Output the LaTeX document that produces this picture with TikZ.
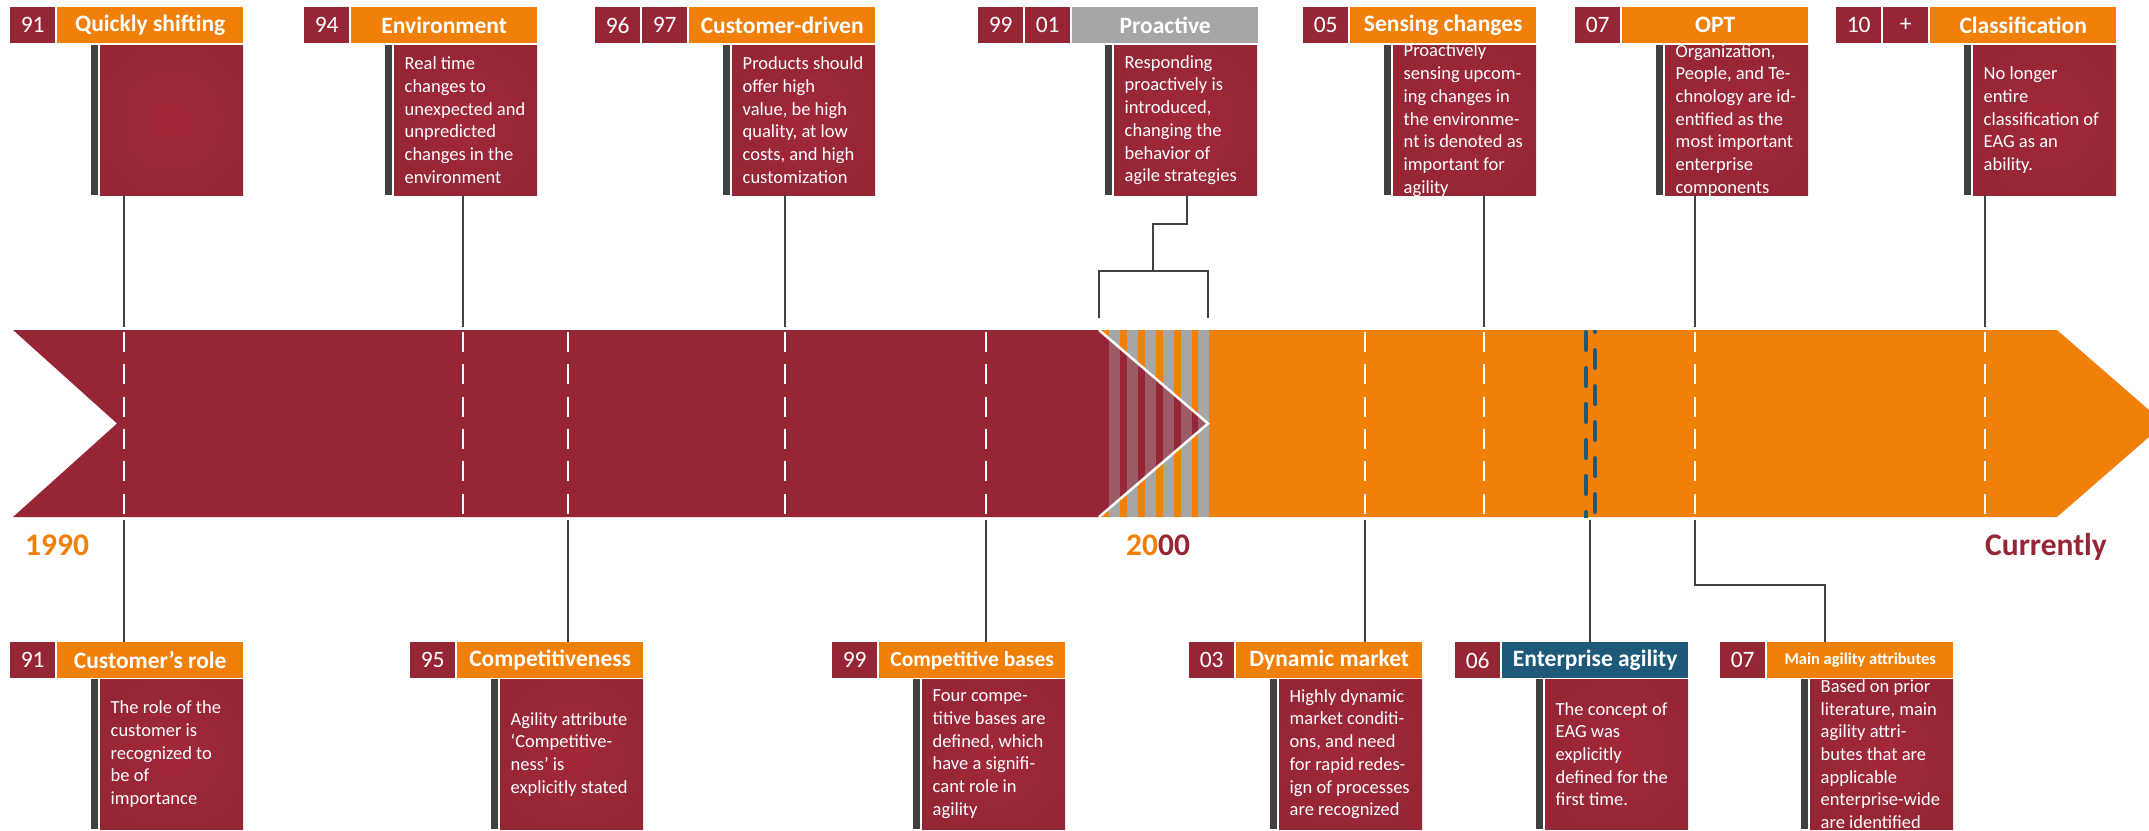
\documentclass[tikz,border=0pt]{standalone}
\usepackage{fontspec}
\setmainfont{Carlito}
\definecolor{tlMaroon}{RGB}{150,38,54}
\definecolor{tlMaroonL}{RGB}{162,40,58}
\definecolor{tlOrange}{RGB}{240,128,10}
\definecolor{tlGray}{RGB}{166,166,166}
\definecolor{tlBlue}{RGB}{30,89,122}
\definecolor{tlBar}{RGB}{64,64,64}
\newcommand\tlbody{\fontsize{18.5}{22.7}\selectfont}
\newcommand\tlhead{\fontsize{23.5}{28}\selectfont\bfseries}
\newcommand\tlheadmid{\fontsize{21.5}{26}\selectfont\bfseries}
\newcommand\tlheadsmall{\fontsize{16.5}{20}\selectfont\bfseries}
\newcommand\tlnum{\fontsize{23.5}{28}\selectfont}
\newcommand\tlyear{\fontsize{31.5}{36}\selectfont\bfseries}
\begin{document}
\begin{tikzpicture}[x=1pt,y=-1pt,
  numbox/.style={fill=tlMaroon, text=white, font=\tlnum, minimum width=45pt,
    minimum height=36pt, inner sep=0pt, anchor=north west},
  headbox/.style={fill=tlOrange, text=white, font=\tlhead, minimum width=186pt,
    minimum height=36pt, inner sep=0pt, anchor=north west},
  bodybox/.style={inner color=tlMaroonL, outer color=tlMaroon, minimum width=143pt,
    minimum height=150pt, inner sep=0pt, anchor=north west},
  barbox/.style={fill=tlBar, minimum width=7pt, minimum height=150pt,
    inner sep=0pt, anchor=north west},
  bodytext/.style={text=white, font=\tlbody, align=left, inner sep=0pt,
    anchor=west, xshift=10.5pt},
  conn/.style={draw=tlBar, line width=2.5pt},
  tick/.style={draw=white, line width=2.5pt, dash pattern=on 20pt off 12.3pt},
  agile/.style={draw=tlBlue, line width=4.5pt, line cap=round,
    dash pattern=on 17.5pt off 18.5pt},
  year/.style={font=\tlyear, inner sep=0pt, anchor=base west}]
\useasboundingbox (0,0) rectangle (2149,830);
\clip (0,0) rectangle (2149,830);

% ---------- time band ----------
\fill[tlMaroon] (13,330) -- (1099,330) -- (1208,423.5) -- (1099,517) -- (13,517)
  -- (117,423.5) -- cycle;
\fill[tlOrange] (1099,330) -- (2057,330) -- (2164.5,423.5) -- (2057,517) -- (1099,517)
  -- (1208,423.5) -- cycle;
\begin{scope}
  \clip (1099,330) -- (1300,330) -- (1300,517) -- (1099,517) -- (1208,423.5) -- cycle;
  \foreach \s in {1109,1127,1145,1163,1181,1198}
    \fill[tlGray] (\s,330) rectangle ++(10.5,187);
\end{scope}
\begin{scope}
  \clip (1099,330) -- (1208,423.5) -- (1099,517) -- cycle;
  \foreach \s in {1109,1127,1145,1163,1181,1198}
    \fill[tlGray, opacity=0.42] (\s,330) rectangle ++(10.5,187);
\end{scope}
\draw[white, line width=2.5pt] (1099,330) -- (1208,423.5) -- (1099,517);

% tick marks on the band
\foreach \x in {124,463,568,785,986,1365,1484,1695,1985}
  \draw[tick] (\x,332) -- (\x,516);
\begin{scope}
  \clip (1570,330) rectangle (1610,517);
  \draw[agile] (1586,332.25) -- (1586,540);
  \draw[agile] (1595,314.25) -- (1595,540);
\end{scope}

% tick end points above and below the band
\foreach \n/\x in {1/124,2/463,3/785,5/1484,6/1695,7/1985}
  \coordinate (up\n) at (\x,327);
\foreach \n/\x in {1/124,2/568,3/986,4/1365,5/1590,6/1695}
  \coordinate (dn\n) at (\x,520);

% ---------- upper milestones ----------
\node[numbox] (t1n) at (10,7) {91};
\node[headbox] (t1h) at (57,7) {Quickly shifting};
\node[barbox] (t1r) at (91,45) {};
\node[bodybox] (t1b) at (100,45) {};

\node[numbox] (t2n) at (304,7) {94};
\node[headbox] (t2h) at (351,7) {Environment};
\node[barbox] (t2r) at (385,45) {};
\node[bodybox] (t2b) at (394,45) {};
\node[bodytext] (t2t) at (t2b.west) {Real time\\changes to\\unexpected and\\unpredicted\\changes in the\\environment};

\node[numbox] (t3n) at (595,7) {96};
\node[numbox] (t3m) at (642,7) {97};
\node[headbox] (t3h) at (689,7) {Customer-driven};
\node[barbox] (t3r) at (723,45) {};
\node[bodybox] (t3b) at (732,45) {};
\node[bodytext] (t3t) at (t3b.west) {Products should\\offer high\\value, be high\\quality, at low\\costs, and high\\customization};

\node[numbox] (t4n) at (978,7) {99};
\node[numbox] (t4m) at (1025,7) {01};
\node[headbox, fill=tlGray] (t4h) at (1072,7) {Proactive};
\node[barbox] (t4r) at (1105,45) {};
\node[bodybox] (t4b) at (1114,45) {};
\node[bodytext] (t4t) at (t4b.west) {Responding\\proactively is\\introduced,\\changing the\\behavior of\\agile strategies};

\node[numbox] (t5n) at (1303,7) {05};
\node[headbox] (t5h) at (1350,7) {Sensing changes};
\node[barbox] (t5r) at (1384,45) {};
\node[bodybox] (t5b) at (1393,45) {};
\node[bodytext] (t5t) at (t5b.west) {Proactively\\sensing upcom-\\ing changes in\\the environme-\\nt is denoted as\\important for\\agility};

\node[numbox] (t6n) at (1575,7) {07};
\node[headbox] (t6h) at (1622,7) {OPT};
\node[barbox] (t6r) at (1656,45) {};
\node[bodybox] (t6b) at (1665,45) {};
\node[bodytext] (t6t) at (t6b.west) {Organization,\\People, and Te-\\chnology are id-\\entified as the\\most important\\enterprise\\components};

\node[numbox] (t7n) at (1836,7) {10};
\node[numbox] (t7m) at (1883,7) {+};
\node[headbox] (t7h) at (1930,7) {Classification};
\node[barbox] (t7r) at (1964,45) {};
\node[bodybox] (t7b) at (1973,45) {};
\node[bodytext] (t7t) at (t7b.west) {No longer\\entire\\classification of\\EAG as an\\ability.};

% ---------- lower milestones ----------
\node[numbox] (b1n) at (10,642) {91};
\node[headbox] (b1h) at (57,642) {Customer’s role};
\node[barbox] (b1r) at (91,679) {};
\node[bodybox] (b1b) at (100,679) {};
\node[bodytext] (b1t) at (b1b.west) {The role of the\\customer is\\recognized to\\be of\\importance};

\node[numbox] (b2n) at (410,642) {95};
\node[headbox] (b2h) at (457,642) {Competitiveness};
\node[barbox] (b2r) at (491,679) {};
\node[bodybox] (b2b) at (500,679) {};
\node[bodytext] (b2t) at (b2b.west) {Agility attribute\\‘Competitive-\\ness’ is\\explicitly stated};

\node[numbox] (b3n) at (832,642) {99};
\node[headbox, font=\tlheadmid] (b3h) at (879,642) {Competitive bases};
\node[barbox] (b3r) at (913,679) {};
\node[bodybox] (b3b) at (922,679) {};
\node[bodytext] (b3t) at (b3b.west) {Four compe-\\titive bases are\\defined, which\\have a signifi-\\cant role in\\agility};

\node[numbox] (b4n) at (1189,642) {03};
\node[headbox] (b4h) at (1236,642) {Dynamic market};
\node[barbox] (b4r) at (1270,679) {};
\node[bodybox] (b4b) at (1279,679) {};
\node[bodytext] (b4t) at (b4b.west) {Highly dynamic\\market conditi-\\ons, and need\\for rapid redes-\\ign of processes\\are recognized};

\node[numbox] (b5n) at (1455,642) {06};
\node[headbox, fill=tlBlue] (b5h) at (1502,642) {Enterprise agility};
\node[barbox] (b5r) at (1536,679) {};
\node[bodybox] (b5b) at (1545,679) {};
\node[bodytext] (b5t) at (b5b.west) {The concept of\\EAG was\\explicitly\\defined for the\\first time.};

\node[numbox] (b6n) at (1720,642) {07};
\node[headbox, font=\tlheadsmall] (b6h) at (1767,642) {Main agility attributes};
\node[barbox] (b6r) at (1801,679) {};
\node[bodybox] (b6b) at (1810,679) {};
\node[bodytext] (b6t) at (b6b.west) {Based on prior\\literature, main\\agility attri-\\butes that are\\applicable\\enterprise-wide\\are identified};

% ---------- connectors ----------
\draw[conn] (t1b.south -| up1) -- (up1);
\draw[conn] (t2b.south -| up2) -- (up2);
\draw[conn] (t3b.south -| up3) -- (up3);
\draw[conn] (t5b.south -| up5) -- (up5);
\draw[conn] (t6b.south -| up6) -- (up6);
\draw[conn] (t7b.south -| up7) -- (up7);
\coordinate (pk) at (1187,224);
\coordinate (pm) at (1153,271);
\draw[conn] (t4b.south -| pk) -- (pk) -- (pk -| pm) -- (pm);
\draw[conn] (1099,318) -- (1099,271) -- (1208,271) -- (1208,318);

\draw[conn] (dn1) -- (dn1 |- b1h.north);
\draw[conn] (dn2) -- (dn2 |- b2h.north);
\draw[conn] (dn3) -- (dn3 |- b3h.north);
\draw[conn] (dn4) -- (dn4 |- b4h.north);
\draw[conn] (dn5) -- (dn5 |- b5h.north);
\coordinate (ma) at (1825,585);
\draw[conn] (dn6) -- (dn6 |- ma) -- (ma) -- (ma |- b6h.north);

% ---------- years ----------
\node[year, text=tlOrange] (y1990) at (25,555) {1990};
\node[year] (y2000) at (1126,555) {\textcolor{tlOrange}{20}\textcolor{tlMaroon}{00}};
\node[year, text=tlMaroon] (ynow) at (1985,555) {Currently};
\end{tikzpicture}
\end{document}
